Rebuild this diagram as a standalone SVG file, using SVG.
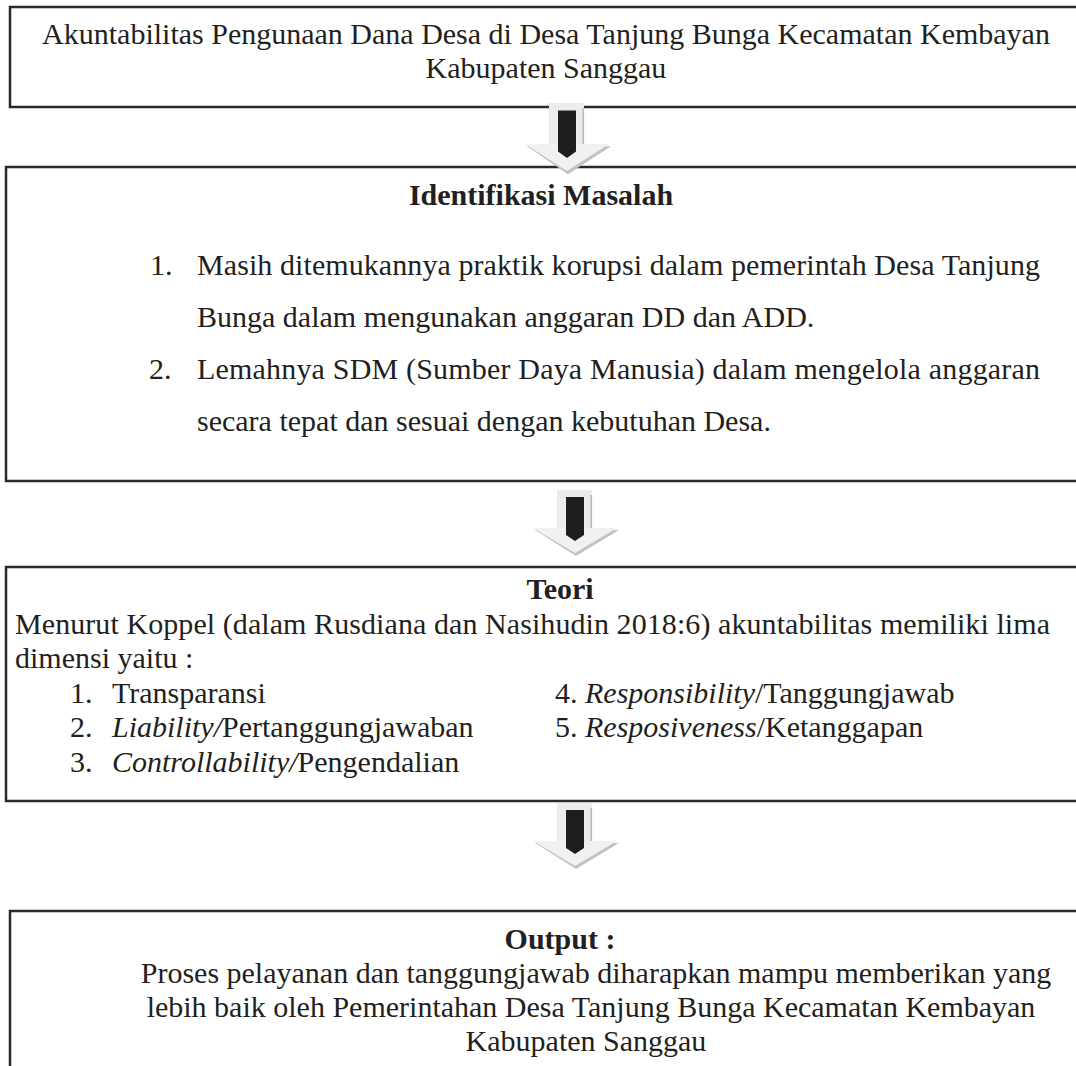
<svg xmlns="http://www.w3.org/2000/svg" width="1076" height="1066" viewBox="0 0 1076 1066">
<style>
  .box { fill: #ffffff; stroke: #2a2a2a; stroke-width: 2.5; }
  text { font-family: "Liberation Serif", "Times New Roman", serif; font-size: 30px; fill: #231f20; }
  .b { font-weight: bold; }
  .c { text-anchor: middle; }
  .i { font-style: italic; }
</style>
<defs>
  <g id="blockArrow">
    <rect x="-18" y="0" width="35" height="40" fill="#ececec"/>
    <rect x="15.5" y="5" width="1.6" height="33" fill="#b8b8b8"/>
    <polygon points="-40,40 44,40 1,66" fill="#c2c2c2"/>
    <polygon points="-42,38 42,38 0,63" fill="#f1f1f1"/>
    <polygon points="-9,7 9,7 9,45 0,51 -9,45" fill="#1e1e1e"/>
  </g>
</defs>

<g id="node-judul">
  <rect class="box" x="10" y="7" width="1090" height="100"/>
  <text class="c" x="546" y="44">Akuntabilitas Pengunaan Dana Desa di Desa Tanjung Bunga Kecamatan Kembayan</text>
  <text class="c" x="546" y="78">Kabupaten Sanggau</text>
</g>

<g id="node-identifikasi">
  <rect class="box" x="6" y="167" width="1094" height="314"/>
  <text class="c b" x="541" y="205">Identifikasi Masalah</text>
  <text x="150" y="275">1.</text>
  <text x="197" y="275" textLength="843" lengthAdjust="spacing">Masih ditemukannya praktik korupsi dalam pemerintah Desa Tanjung</text>
  <text x="197" y="327">Bunga dalam mengunakan anggaran DD dan ADD.</text>
  <text x="149" y="379">2.</text>
  <text x="197" y="379" textLength="843" lengthAdjust="spacing">Lemahnya SDM (Sumber Daya Manusia) dalam mengelola anggaran</text>
  <text x="197" y="431">secara tepat dan sesuai dengan kebutuhan Desa.</text>
</g>

<g id="node-teori">
  <rect class="box" x="6" y="567" width="1094" height="234"/>
  <text class="c b" x="560" y="599">Teori</text>
  <text x="15" y="634" textLength="1035" lengthAdjust="spacing">Menurut Koppel (dalam Rusdiana dan Nasihudin 2018:6) akuntabilitas memiliki lima</text>
  <text x="15" y="668">dimensi yaitu :</text>
  <text x="70" y="703">1.</text>
  <text x="112" y="703">Transparansi</text>
  <text x="70" y="737">2.</text>
  <text x="112" y="737"><tspan class="i">Liability/</tspan>Pertanggungjawaban</text>
  <text x="70" y="772">3.</text>
  <text x="112" y="772"><tspan class="i">Controllability/</tspan>Pengendalian</text>
  <text x="555" y="703">4. <tspan class="i">Responsibility</tspan>/Tanggungjawab</text>
  <text x="555" y="737">5. <tspan class="i">Resposiveness</tspan>/Ketanggapan</text>
</g>

<g id="node-output">
  <rect class="box" x="10" y="911" width="1090" height="200"/>
  <text class="c b" x="560" y="949">Output :</text>
  <text class="c" x="596" y="983">Proses pelayanan dan tanggungjawab diharapkan mampu memberikan yang</text>
  <text class="c" x="591" y="1017">lebih baik oleh Pemerintahan Desa Tanjung Bunga Kecamatan Kembayan</text>
  <text class="c" x="586" y="1051">Kabupaten Sanggau</text>
</g>

<g id="connectors">
  <use href="#blockArrow" transform="translate(567,103) scale(1,1.08)"/>
  <use href="#blockArrow" transform="translate(575,490)"/>
  <use href="#blockArrow" transform="translate(575,803)"/>
</g>
</svg>
